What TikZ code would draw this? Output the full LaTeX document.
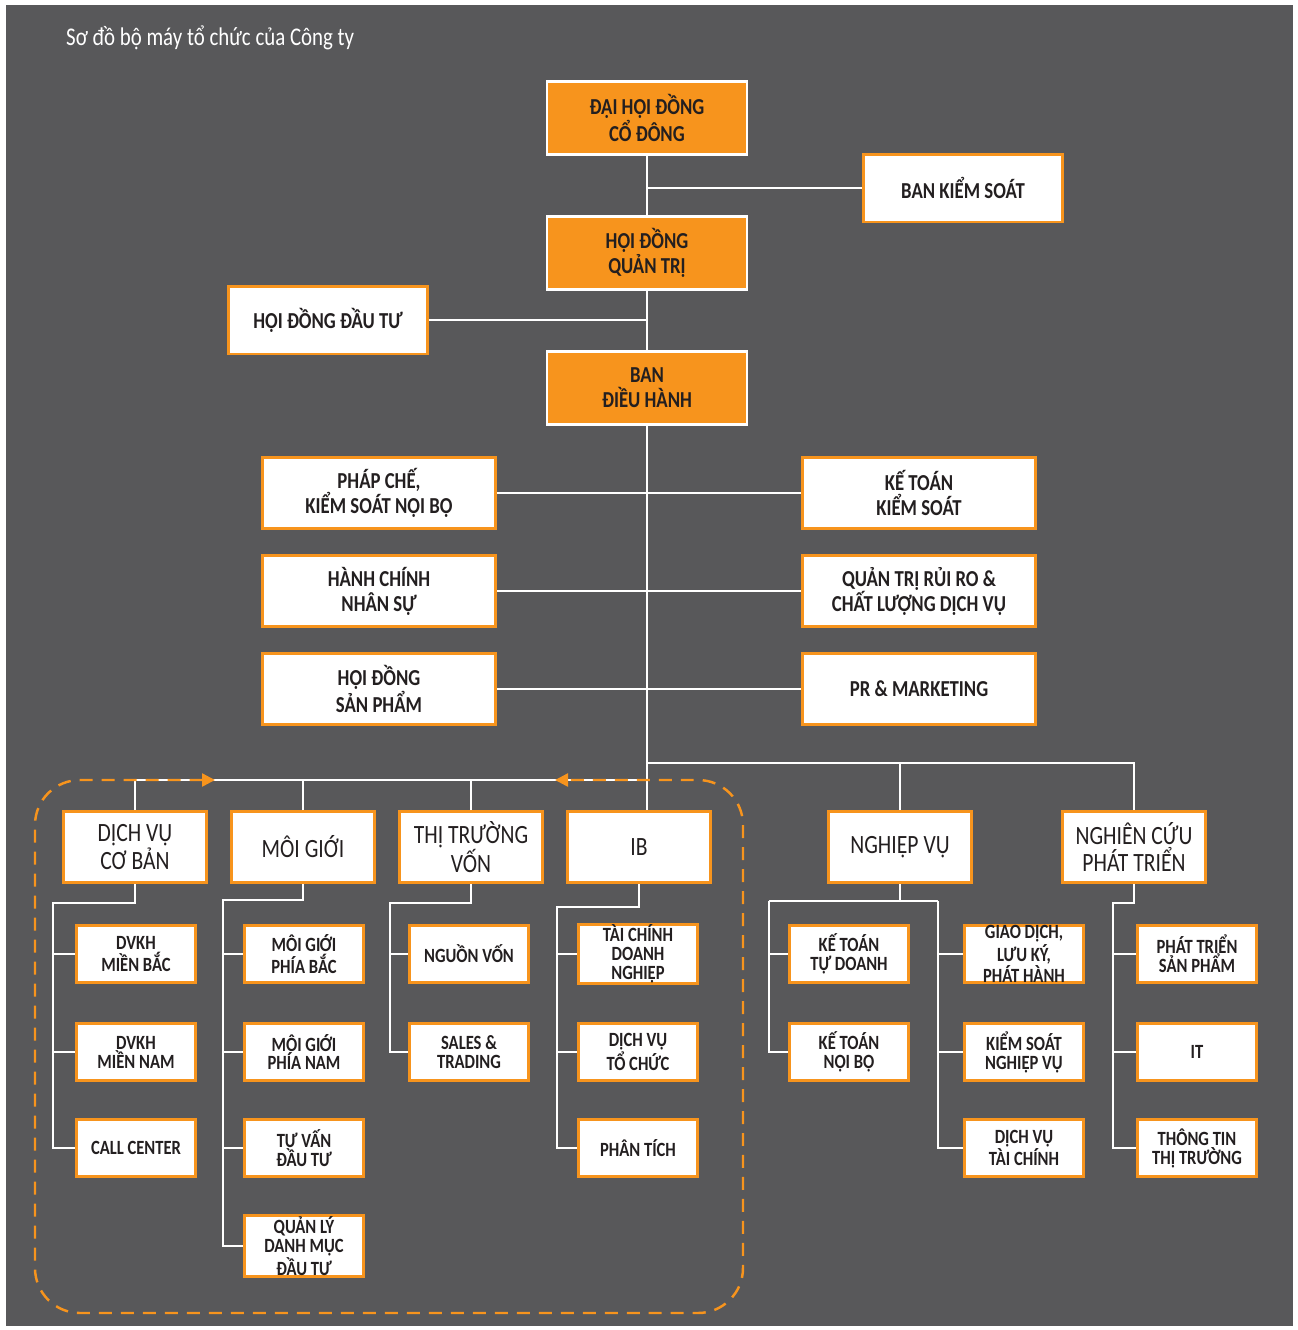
\documentclass[tikz,border=0pt]{standalone}
\usepackage{fontspec}
\setmainfont{Carlito}[FakeStretch=0.82]
\usetikzlibrary{arrows.meta}
\definecolor{chartbg}{HTML}{58585A}
\definecolor{chartorange}{HTML}{F7941D}
\definecolor{chartink}{HTML}{231F20}
\newcommand{\titleFont}{\fontsize{14.5}{16}\selectfont}
\newcommand{\unitFont}{\fontsize{13}{14.2}\selectfont\bfseries}
\newcommand{\headFont}{\fontsize{15}{13.6}\selectfont}
\newcommand{\leafFont}{\fontsize{11.5}{10.8}\selectfont\bfseries}

\begin{document}
\begin{tikzpicture}[x=0.02cm, y=-0.02cm]
  \tikzset{unit/.style={draw, align=center, inner sep=0pt, text=chartink, font=\unitFont},
    boardbox/.style={unit, fill=chartorange, draw=white, line width=1.4pt, minimum width=4cm, minimum height=1.46cm},
    staffbox/.style={unit, fill=white, draw=chartorange, line width=1.7pt, minimum width=3.98cm, minimum height=1.36cm},
    sidebox/.style={staffbox, minimum width=4.68cm, minimum height=1.42cm},
    headbox/.style={staffbox, font=\headFont, minimum width=2.86cm, minimum height=1.42cm},
    leafbox/.style={staffbox, font=\leafFont, minimum width=2.38cm, minimum height=1.14cm},
    link/.style={draw=white, line width=1.1pt},
    groupframe/.style={draw=chartorange, line width=1.4pt, dash pattern=on 0.26cm off 0.18cm, rounded corners=0.9cm}}
  \useasboundingbox (0,0) rectangle (1298,1330);
  \fill[white] (0,0) rectangle (1298,1330);
  \fill[chartbg] (6,5) rectangle (1293,1326);
  \node[anchor=west, text=white, font=\titleFont] (title) at (60,38) {Sơ đồ bộ máy tổ chức của Công ty};

  \node[boardbox] (dhcd) at (647,118) {ĐẠI HỘI ĐỒNG\\CỔ ĐÔNG};
  \node[boardbox] (hdqt) at (647,253) {HỘI ĐỒNG\\QUẢN TRỊ};
  \node[boardbox] (bdh) at (647,388) {BAN\\ĐIỀU HÀNH};
  \node[staffbox] (bks) at (963,188) {BAN KIỂM SOÁT};
  \node[staffbox] (hddt) at (328,320) {HỘI ĐỒNG ĐẦU TƯ};

  \node[sidebox] (phapche) at (379,493) {PHÁP CHẾ,\\KIỂM SOÁT NỘI BỘ};
  \node[sidebox] (hcns) at (379,591) {HÀNH CHÍNH\\NHÂN SỰ};
  \node[sidebox] (hdsp) at (379,689) {HỘI ĐỒNG\\SẢN PHẨM};
  \node[sidebox] (ktks) at (919,493) {KẾ TOÁN\\KIỂM SOÁT};
  \node[sidebox] (qtrr) at (919,591) {QUẢN TRỊ RỦI RO \&\\CHẤT LƯỢNG DỊCH VỤ};
  \node[sidebox] (pr) at (919,689) {PR \& MARKETING};

  \node[headbox] (dvcb) at (135,847) {DỊCH VỤ\\CƠ BẢN};
  \node[headbox] (moigioi) at (303,847) {MÔI GIỚI};
  \node[headbox] (ttv) at (471,847) {THỊ TRƯỜNG\\VỐN};
  \node[headbox] (ib) at (639,847) {IB};
  \node[headbox] (nghiepvu) at (900,847) {NGHIỆP VỤ};
  \node[headbox] (ncpt) at (1134,847) {NGHIÊN CỨU\\PHÁT TRIỂN};

  \node[leafbox] (dvkhb) at (136,954) {DVKH\\MIỀN BẮC};
  \node[leafbox] (dvkhn) at (136,1052) {DVKH\\MIỀN NAM};
  \node[leafbox] (callc) at (136,1148) {CALL CENTER};
  \node[leafbox] (mgb) at (304,954) {MÔI GIỚI\\PHÍA BẮC};
  \node[leafbox] (mgn) at (304,1052) {MÔI GIỚI\\PHÍA NAM};
  \node[leafbox] (tvdt) at (304,1148) {TƯ VẤN\\ĐẦU TƯ};
  \node[leafbox, minimum height=1.22cm] (qldm) at (304,1246) {QUẢN LÝ\\DANH MỤC\\ĐẦU TƯ};
  \node[leafbox] (nguonvon) at (469,954) {NGUỒN VỐN};
  \node[leafbox] (sales) at (469,1052) {SALES \&\\TRADING};
  \node[leafbox] (tcdn) at (638,954) {TÀI CHÍNH\\DOANH\\NGHIỆP};
  \node[leafbox] (dvtoc) at (638,1052) {DỊCH VỤ\\TỔ CHỨC};
  \node[leafbox] (phantich) at (638,1148) {PHÂN TÍCH};
  \node[leafbox] (kttd) at (849,954) {KẾ TOÁN\\TỰ DOANH};
  \node[leafbox] (ktnb) at (849,1052) {KẾ TOÁN\\NỘI BỘ};
  \node[leafbox] (gdlk) at (1024,954) {GIAO DỊCH,\\LƯU KÝ,\\PHÁT HÀNH};
  \node[leafbox] (ksnv) at (1024,1052) {KIỂM SOÁT\\NGHIỆP VỤ};
  \node[leafbox] (dvtc) at (1024,1148) {DỊCH VỤ\\TÀI CHÍNH};
  \node[leafbox] (ptsp) at (1197,954) {PHÁT TRIỂN\\SẢN PHẨM};
  \node[leafbox] (itx) at (1197,1052) {IT};
  \node[leafbox] (tttt) at (1197,1148) {THÔNG TIN\\THỊ TRƯỜNG};

  % buses and spines
  \coordinate (lbus) at (648,780);
  \coordinate (rbus) at (648,763);
  \coordinate (sa) at (53,903);
  \coordinate (sb) at (223,900);
  \coordinate (sc) at (390,903);
  \coordinate (sd) at (557,907);
  \coordinate (se) at (769,901);
  \coordinate (sf) at (938,901);
  \coordinate (sg) at (1113,903);

  \draw[link] (dhcd.south) -- (hdqt.north);
  \draw[link] (hdqt.south) -- (bdh.north);
  \draw[link] (bdh.south) -- (bdh.south |- ib.north);
  \draw[link] (bks.west) -- (bks.west -| dhcd.south);
  \draw[link] (hddt.east) -- (hddt.east -| bdh.north);
  \draw[link] (phapche.east) -- (ktks.west);
  \draw[link] (hcns.east) -- (qtrr.west);
  \draw[link] (hdsp.east) -- (pr.west);
  \draw[link] (dvcb.north) |- (lbus);
  \foreach \h in {moigioi,ttv} \draw[link] (\h.north) -- (\h.north |- lbus);
  \draw[link] (rbus) -| (ncpt.north);
  \draw[link] (nghiepvu.north) -- (nghiepvu.north |- rbus);

  \draw[link] (dvcb.south) |- (sa) |- (callc.west);
  \draw[link] (moigioi.south) |- (sb) |- (qldm.west);
  \draw[link] (ttv.south) |- (sc) |- (sales.west);
  \draw[link] (ib.south) |- (sd) |- (phantich.west);
  \draw[link] (nghiepvu.south) -- (nghiepvu.south |- se);
  \draw[link] (se) -- (sf);
  \draw[link] (se) |- (ktnb.west);
  \draw[link] (sf) |- (dvtc.west);
  \draw[link] (ncpt.south) |- (sg) |- (tttt.west);
  \foreach \n in {dvkhb,dvkhn} \draw[link] (sa |- \n.west) -- (\n.west);
  \foreach \n in {mgb,mgn,tvdt} \draw[link] (sb |- \n.west) -- (\n.west);
  \draw[link] (sc |- nguonvon.west) -- (nguonvon.west);
  \foreach \n in {tcdn,dvtoc} \draw[link] (sd |- \n.west) -- (\n.west);
  \draw[link] (se |- kttd.west) -- (kttd.west);
  \foreach \n in {gdlk,ksnv} \draw[link] (sf |- \n.west) -- (\n.west);
  \foreach \n in {ptsp,itx} \draw[link] (sg |- \n.west) -- (\n.west);

  % dashed group
  \coordinate (gl) at (215,780);
  \coordinate (gr) at (555,780);
  \draw[groupframe, {Triangle[length=0.26cm, width=0.26cm]}-{Triangle[length=0.26cm, width=0.26cm]}]
    (gl) -- (35,780) -- (35,1313) -- (743,1313) -- (743,780) -- (gr);
\end{tikzpicture}
\end{document}
